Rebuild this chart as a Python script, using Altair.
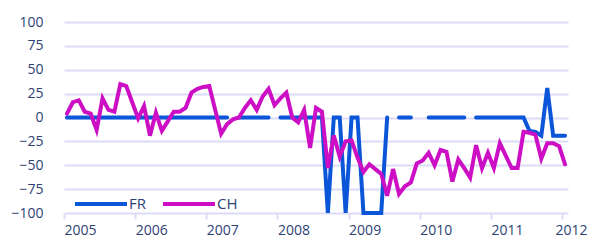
import altair as alt
import pandas as pd

# Monthly observations, Jan 2005 .. Jan 2012 (85 months)
years = list(range(2005, 2013))
month_labels = [f"{y}-{m:02d}" for y in range(2005, 2012) for m in range(1, 13)] + ["2012-01"]

CH = [4, 16, 18, 6, 4, -13, 20, 8, 6, 35, 33, 16,
      -1, 12, -19, 5, -14, -4, 6, 6, 10, 26, 30, 32,
      33, 8, -17, -7, -2, 0, 10, 18, 8, 22, 30, 13,
      20, 26, 0, -5, 8, -32, 10, 6, -53, -19, -41, -25,
      -24, -42, -57, -49, -54, -59, -82, -54, -80, -72, -68, -48,
      -45, -37, -50, -34, -36, -67, -44, -53, -63, -29, -53, -37,
      -53, -27, -40, -53, -53, -15, -16, -18, -43, -27, -27, -30,
      -49]

N = None
FR = [0] * 28 + [N] + [0] * 6 + [N] + [0] * 8 + \
     [-100, 0, 0, -100, 0, 0, -100, -100, -100, -100, 0] + \
     [N, 0, 0, 0, N, N] + [0] * 7 + [N] + [0] * 9 + \
     [-14, -15, -19, 31, -19, -19, -19]

series_names = ["FR", "CH"]
series_colors = ["#0a55d8", "#cc0fc4"]

rows = []
for name, vals in zip(series_names, [FR, CH]):
    for lab, v in zip(month_labels, vals):
        y, m = int(lab[:4]), int(lab[5:])
        rows.append({"month": lab, "t": y + (m - 0.5) / 12, "series": name, "value": v})
df = pd.DataFrame(rows)

label_color = "#2d4275"
grid_color = "#dcdcf7"

base = alt.Chart(df).mark_line(
    strokeWidth=4, strokeCap="round", invalid="break-paths-show-domains"
).encode(
    x=alt.X("t:Q", scale=alt.Scale(domain=[2005, 2012 + 1 / 12], nice=False, zero=False),
            axis=alt.Axis(values=years, format="d", title=None, grid=False, domain=False,
                          ticks=True, tickSize=6, tickWidth=2, tickColor=grid_color,
                          labelAlign="left", labelPadding=4, labelFontSize=14,
                          labelOffset=alt.condition("datum.value == 2012", alt.value(-7), alt.value(0)),
                          labelColor=label_color, labelFont="Open Sans")),
    y=alt.Y("value:Q", scale=alt.Scale(domain=[-100, 100], nice=False),
            axis=alt.Axis(values=list(range(-100, 101, 25)), title=None, domain=False,
                          ticks=False, grid=True, gridColor=grid_color, gridWidth=2,
                          labelPadding=21, labelFontSize=14, labelColor=label_color,
                          labelFont="Open Sans")),
    color=alt.Color("series:N", scale=alt.Scale(domain=series_names, range=series_colors),
                    legend=alt.Legend(title=None, orient="none", legendX=9, legendY=154,
                                      direction="horizontal", symbolType="stroke",
                                      symbolSize=2704, symbolStrokeWidth=4,
                                      labelFontSize=15, labelColor=label_color,
                                      labelFont="Open Sans", labelOffset=0,
                                      columnPadding=9, padding=0)),
)

chart = alt.layer(
    base.transform_filter(alt.datum.series == "FR"),
    base.transform_filter(alt.datum.series == "CH"),
).properties(
    width=504, height=191,
    autosize=alt.AutoSizeParams(type="none"),
    padding={"left": 56, "top": 14, "right": 21, "bottom": 27},
).configure_view(stroke=None)

chart.save("out.html", embed_options={"renderer": "svg", "actions": False})
